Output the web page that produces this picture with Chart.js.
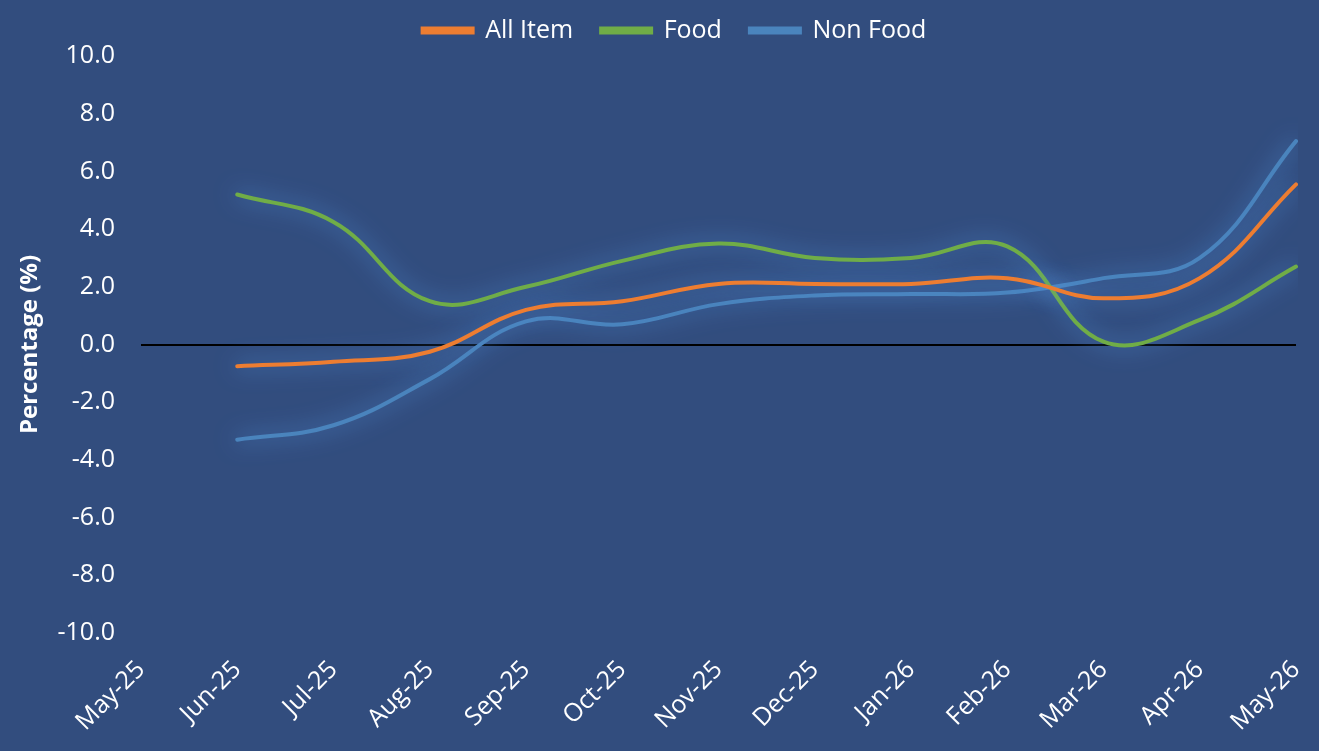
<!DOCTYPE html>
<html>
<head>
<meta charset="utf-8">
<script src="https://cdn.jsdelivr.net/npm/chart.js@4/dist/chart.umd.min.js"></script>
<style>
  html, body { margin: 0; padding: 0; background: #324d7e; }
  #wrap { width: 1319px; height: 751px; }
</style>
</head>
<body>
<div id="wrap"><canvas id="cpiChart" width="1319" height="751"></canvas></div>
<script>
var months = ['May-25', 'Jun-25', 'Jul-25', 'Aug-25', 'Sep-25', 'Oct-25', 'Nov-25',
              'Dec-25', 'Jan-26', 'Feb-26', 'Mar-26', 'Apr-26', 'May-26'];
var allItem = [null, -0.75, -0.6, -0.25, 1.2, 1.5, 2.1, 2.1, 2.1, 2.3, 1.6, 2.3, 5.55];
var food    = [null, 5.2, 4.25, 1.5, 2.0, 2.9, 3.5, 3.0, 3.0, 3.4, 0.1, 0.85, 2.7];
var nonFood = [null, -3.3, -2.8, -1.2, 0.8, 0.7, 1.4, 1.7, 1.75, 1.8, 2.3, 3.0, 7.05];
var yTicks = [-10, -8, -6, -4, -2, 0, 2, 4, 6, 8, 10];

var font = "'Open Sans', sans-serif";

// soft blue glow behind each line, like the office "glow" effect
var glowPlugin = {
    id: 'glow',
    afterInit: function(chart) {
        // keep the legend band a fixed height so the plot starts where the original does
        var lg = chart.legend;
        if (lg) {
            var fit = lg.fit;
            lg.fit = function() {
                fit.call(this);
                this.height = 56;
            };
            var draw = lg.draw;
            lg.draw = function() {
                // nudge items up and a little right, as in the original
                this.top -= 10;
                this.left += 15;
                this.right += 15;
                draw.apply(this, arguments);
                this.top += 10;
                this.left -= 15;
                this.right -= 15;
            };
        }
    },
    beforeDatasetDraw: function(chart) {
        var ctx = chart.ctx;
        ctx.save();
        ctx.shadowColor = 'rgba(85, 150, 225, 0.95)';
        ctx.shadowBlur = 22;
    },
    afterDatasetDraw: function(chart) {
        chart.ctx.restore();
    }
};

function series(label, data, color) {
    return {
        label: label,
        data: data,
        borderColor: color,
        backgroundColor: color,
        borderWidth: 4,
        pointRadius: 0,
        tension: 0.4,
        borderCapStyle: 'round',
        fill: false
    };
}

var ctx = document.getElementById('cpiChart').getContext('2d');
var cpiChart = new Chart(ctx, {
    type: 'line',
    data: {
        labels: months,
        datasets: [
            series('All Item', allItem, '#ed7d31'),
            series('Food', food, '#70ad47'),
            series('Non Food', nonFood, '#4a84bd')
        ]
    },
    options: {
        responsive: false,
        animation: false,
        layout: { padding: 0 },
        plugins: {
            legend: {
                position: 'top',
                labels: {
                    color: '#ffffff',
                    font: { family: font, size: 25 },
                    boxWidth: 50,
                    boxHeight: 4,
                    padding: 28
                }
            },
            tooltip: { enabled: false }
        },
        scales: {
            x: {
                grid: { display: false },
                border: { display: false },
                ticks: {
                    color: '#ffffff',
                    font: { family: font, size: 25 },
                    minRotation: 45,
                    maxRotation: 45,
                    padding: 14
                },
                afterFit: function(scale) {
                    scale.height = 118;
                    scale.paddingRight = 23;
                    scale.paddingLeft = 0;
                }
            },
            y: {
                min: -10,
                max: 10,
                afterBuildTicks: function(scale) {
                    scale.ticks = yTicks.map(function(v) { return { value: v }; });
                },
                ticks: {
                    color: '#ffffff',
                    font: { family: font, size: 25 },
                    padding: 26,
                    callback: function(v) { return Number(v).toFixed(1); }
                },
                grid: {
                    drawTicks: false,
                    lineWidth: 2,
                    color: function(c) {
                        return c.tick && c.tick.value === 0 ? '#000000' : 'rgba(0,0,0,0)';
                    }
                },
                border: { display: false },
                title: {
                    display: true,
                    text: 'Percentage (%)',
                    color: '#ffffff',
                    font: { family: font, size: 24, weight: 'bold' },
                    padding: { top: 16, bottom: 0 }
                },
                afterFit: function(scale) { scale.width = 141; }
            }
        }
    },
    plugins: [glowPlugin]
});
</script>
</body>
</html>
